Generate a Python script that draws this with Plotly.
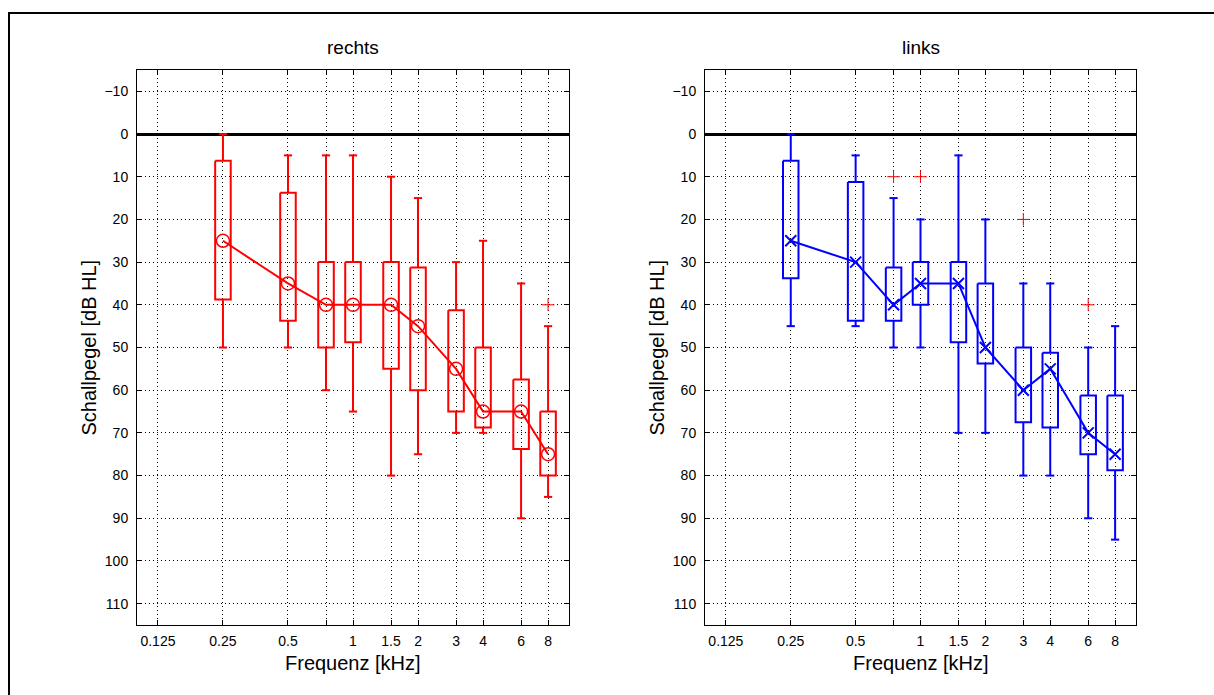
import plotly.graph_objects as go

# ---------------- data (dB HL) ----------------
freqs = [0.25, 0.5, 0.75, 1, 1.5, 2, 3, 4, 6, 8]          # kHz
tick_vals = [0.125, 0.25, 0.5, 0.75, 1, 1.5, 2, 3, 4, 6, 8]
tick_text = ["0.125", "0.25", "0.5", "", "1", "1.5", "2", "3", "4", "6", "8"]
y_ticks = [-10, 0, 10, 20, 30, 40, 50, 60, 70, 80, 90, 100, 110]

# right ear ("rechts")
r_wtop = [0, 5, 5, 5, 10, 15, 30, 25, 35, 45]
r_q1 = [6.25, 13.75, 30, 30, 30, 31.25, 41.25, 50, 57.5, 65]
r_med = [25, 35, 40, 40, 40, 45, 55, 65, 65, 75]
r_q3 = [38.75, 43.75, 50, 48.75, 55, 60, 65, 68.75, 73.75, 80]
r_wbot = [50, 50, 60, 65, 80, 75, 70, 70, 90, 85]
r_out_f = [8]
r_out_v = [40]

# left ear ("links")
l_wtop = [0, 5, 15, 20, 5, 20, 35, 35, 50, 45]
l_q1 = [6.25, 11.25, 31.25, 30, 30, 35, 50, 51.25, 61.25, 61.25]
l_med = [25, 30, 40, 35, 35, 50, 60, 55, 70, 75]
l_q3 = [33.75, 43.75, 43.75, 40, 48.75, 53.75, 67.5, 68.75, 75, 78.75]
l_wbot = [45, 45, 50, 50, 70, 70, 80, 80, 90, 95]
l_out_f = [0.75, 1, 3, 6]
l_out_v = [10, 10, 20, 40]

# ---------------- styling ----------------
W, H = 1214, 695
BOX_HW = 0.036   # box half width (decades on log axis)
CAP_HW = 0.019   # whisker cap half width (decades)
FONT = "Liberation Sans, Arial, Helvetica, sans-serif"


def box_paths(f, wtop, q1, q3, wbot):
    bx, by, wx, wy = [], [], [], []
    for fi, a, b, c, d in zip(f, wtop, q1, q3, wbot):
        l, r = fi * 10 ** -BOX_HW, fi * 10 ** BOX_HW
        bx += [l, r, r, l, l, None]
        by += [b, b, c, c, b, None]
        cl, cr = fi * 10 ** -CAP_HW, fi * 10 ** CAP_HW
        wx += [fi, fi, None, fi, fi, None, cl, cr, None, cl, cr, None]
        wy += [b, a, None, c, d, None, a, a, None, d, d, None]
    return bx, by, wx, wy


fig = go.Figure()


def add_panel(xa, ya, color, wtop, q1, med, q3, wbot, of, ov, symbol, msize, mlw):
    bx, by, wx, wy = box_paths(freqs, wtop, q1, q3, wbot)
    fig.add_trace(go.Scatter(x=wx, y=wy, mode="lines", xaxis=xa, yaxis=ya,
                             line=dict(color=color, width=2), hoverinfo="skip"))
    fig.add_trace(go.Scatter(x=bx, y=by, mode="lines", xaxis=xa, yaxis=ya,
                             line=dict(color=color, width=2), hoverinfo="skip"))
    fig.add_trace(go.Scatter(x=freqs, y=med, mode="lines+markers", xaxis=xa, yaxis=ya,
                             line=dict(color=color, width=2),
                             marker=dict(symbol=symbol, size=msize, color=color,
                                         line=dict(color=color, width=mlw))))
    fig.add_trace(go.Scatter(x=of, y=ov, mode="markers", xaxis=xa, yaxis=ya,
                             marker=dict(symbol="cross-thin-open", size=9, color="red",
                                         line=dict(color="red", width=1))))


add_panel("x", "y", "#ff0000", r_wtop, r_q1, r_med, r_q3, r_wbot, r_out_f, r_out_v,
          "circle-open", 13, 1.5)
add_panel("x2", "y2", "#0000ff", l_wtop, l_q1, l_med, l_q3, l_wbot, l_out_f, l_out_v,
          "x-thin-open", 11, 2)

xl = [137 / W, 569 / W]
xr = [705 / W, 1136 / W]
yd = [1 - 625 / H, 1 - 70 / H]

common_x = dict(type="log", range=[-1, 1], tickmode="array", tickvals=tick_vals,
                ticktext=tick_text, ticks="inside", ticklen=5, tickcolor="black",
                showline=True, linecolor="black", linewidth=1, mirror="ticks",
                showgrid=True, gridcolor="black", gridwidth=1, griddash="1px,3px",
                zeroline=False, tickfont=dict(family=FONT, size=14, color="black"),
                ticklabelstandoff=3)
common_y = dict(range=[115, -15], tickmode="array", tickvals=y_ticks,
                ticks="inside", ticklen=5, tickcolor="black",
                showline=True, linecolor="black", linewidth=1, mirror="ticks",
                showgrid=True, gridcolor="black", gridwidth=1, griddash="1px,3px",
                zeroline=True, zerolinecolor="black", zerolinewidth=2.5,
                tickfont=dict(family=FONT, size=14, color="black"),
                ticklabelstandoff=5)

fig.update_layout(
    width=W, height=H, margin=dict(l=0, r=0, t=0, b=0),
    paper_bgcolor="white", plot_bgcolor="white", showlegend=False,
    xaxis=dict(domain=xl, anchor="y", **common_x),
    yaxis=dict(domain=yd, anchor="x", **common_y),
    xaxis2=dict(domain=xr, anchor="y2", **common_x),
    yaxis2=dict(domain=yd, anchor="x2", **common_y),
    shapes=[dict(type="rect", xref="paper", yref="paper",
                 x0=9 / W, x1=1.2, y0=-0.2, y1=1 - 13 / H,
                 line=dict(color="black", width=2), fillcolor="rgba(0,0,0,0)")],
)

title_font = dict(family=FONT, size=19, color="black")
ann_font = dict(family=FONT, size=20, color="black")
for cx, title in [((xl[0] + xl[1]) / 2, "rechts"), ((xr[0] + xr[1]) / 2, "links")]:
    fig.add_annotation(text=title, x=cx, y=1 - 48 / H, xref="paper", yref="paper",
                       showarrow=False, xanchor="center", yanchor="middle", font=title_font)
    fig.add_annotation(text="Frequenz [kHz]", x=cx, y=1 - 663 / H, xref="paper", yref="paper",
                       showarrow=False, xanchor="center", yanchor="middle", font=ann_font)
for px in [88, 656]:
    fig.add_annotation(text="Schallpegel [dB HL]", x=px / W, y=(yd[0] + yd[1]) / 2,
                       xref="paper", yref="paper", textangle=-90, showarrow=False,
                       xanchor="center", yanchor="middle", font=ann_font)

fig.write_html("out.html")
